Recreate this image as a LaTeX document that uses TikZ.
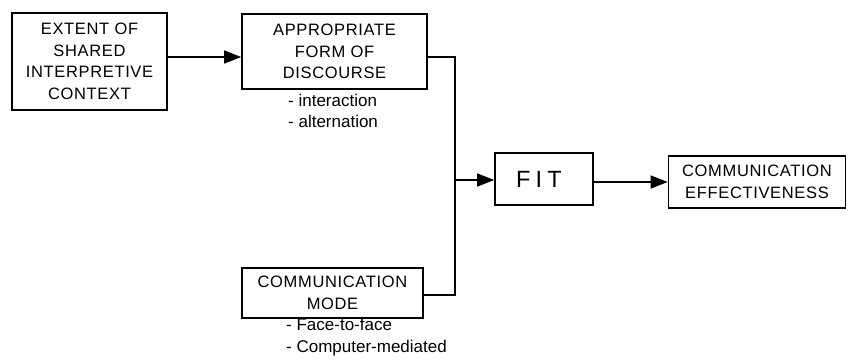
\documentclass[tikz,border=0pt]{standalone}
\usepackage{fontspec}
\setmainfont{Liberation Sans}
\newfontfamily\capsfont[LetterSpace=4]{Liberation Sans}
\newfontfamily\fitfont[LetterSpace=22]{Liberation Sans}
\usetikzlibrary{arrows.meta,calc}
\begin{document}
\begin{tikzpicture}[x=1pt,y=-1pt,
  box/.style={draw,line width=1.6pt,align=center,inner sep=0pt,
    font=\capsfont\fontsize{16.5}{21.5}\selectfont},
  sub/.style={align=left,anchor=west,inner sep=0pt,
    font=\fontsize{17}{21.5}\selectfont},
  conn/.style={line width=1.4pt},
  arr/.style={conn,-{Triangle[length=17pt,width=13pt]}}]
\useasboundingbox (0,0) rectangle (848,359);
\node[box,minimum width=155pt,minimum height=97pt] (ext) at (89.5,61.5) {EXTENT OF\\SHARED\\INTERPRETIVE\\CONTEXT};
\node[box,minimum width=185pt,minimum height=75pt] (form) at (334.5,51.5) {APPROPRIATE\\FORM OF\\DISCOURSE};
\node[sub] (formsub) at (288,111) {- interaction\\- alternation};
\node[box,minimum width=181pt,minimum height=50pt] (mode) at (332.5,293) {COMMUNICATION\\MODE};
\node[sub] (modesub) at (286,337) {- Face-to-face\\- Computer-mediated};
\node[box,minimum width=98pt,minimum height=52pt,font=\fitfont\fontsize{23.5}{24}\selectfont] (fit) at (544,179) {FIT\hspace{10pt}};
\node[box,minimum width=177pt,minimum height=52pt] (eff) at (757,182) {COMMUNICATION\\EFFECTIVENESS};
\coordinate (junc) at (455,180);
\coordinate (a1) at ([yshift=4.5pt]ext.east);
\coordinate (a2) at ([yshift=-5.5pt]form.east);
\coordinate (a3) at ([yshift=-2pt]mode.east);
\draw[arr] (a1) -- (a1 -| form.west);
\draw[conn] (a2) -| (junc);
\draw[conn] (a3) -| (junc);
\draw[arr] (junc) -- (junc -| fit.west);
\draw[arr] (fit.east |- eff) -- (eff.west);
\end{tikzpicture}
\end{document}
